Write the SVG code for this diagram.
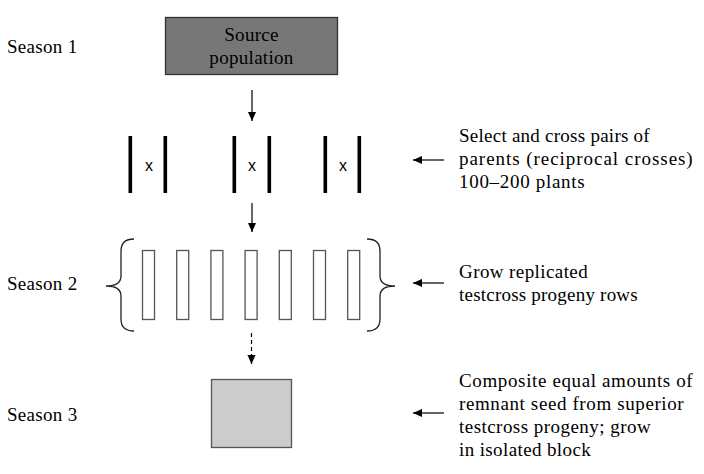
<svg xmlns="http://www.w3.org/2000/svg" width="704" height="474" viewBox="0 0 704 474">
<defs>
<style>
.t{font-family:"Liberation Serif","Times New Roman",serif;font-size:19px;letter-spacing:0.3px;fill:#000}
.x{font-family:"Liberation Sans",Arial,sans-serif;font-size:16px;fill:#000;text-anchor:middle}
.bar{fill:#000}
.row{fill:#fff;stroke:#555;stroke-width:1.3}
.ln{stroke:#000;stroke-width:1.2;fill:none}
.dash{stroke:#000;stroke-width:1.2;fill:none;stroke-dasharray:4 3}
.brace{stroke:#222;stroke-width:1.3;fill:none}
</style>
<marker id="ah" viewBox="0 0 10 10" refX="10" refY="5" markerWidth="9" markerHeight="9" markerUnits="userSpaceOnUse" orient="auto">
<path d="M0,0.5 L10,5 L0,9.5 z" fill="#000"/>
</marker>
</defs>
<rect width="704" height="474" fill="#fff"/>

<g id="season-labels">
<text class="t" x="7" y="53">Season 1</text>
<text class="t" x="7" y="290">Season 2</text>
<text class="t" x="7" y="421">Season 3</text>
</g>

<g id="source">
<rect x="165.5" y="17.5" width="172" height="57" fill="#777" stroke="#333" stroke-width="1.3"/>
<text class="t" x="251.5" y="41" text-anchor="middle">Source</text>
<text class="t" x="251.5" y="64" text-anchor="middle">population</text>
</g>

<g id="crosses">
<rect class="bar" x="128.5" y="136" width="3.6" height="57"/>
<rect class="bar" x="163.5" y="136" width="3.6" height="57"/>
<text class="x" x="149" y="170.5">x</text>
<rect class="bar" x="232.5" y="136" width="3.6" height="57"/>
<rect class="bar" x="267.5" y="136" width="3.6" height="57"/>
<text class="x" x="252" y="170.5">x</text>
<rect class="bar" x="323.5" y="136" width="3.6" height="57"/>
<rect class="bar" x="357.5" y="136" width="3.6" height="57"/>
<text class="x" x="343" y="170.5">x</text>
</g>

<g id="rows">
<path class="brace" d="M134,239 Q121,239 121,251 L121,276 Q121,286 106,286 Q121,286 121,296 L121,319 Q121,331 134,331"/>
<path class="brace" d="M367,239 Q380,239 380,251 L380,276 Q380,286 395,286 Q380,286 380,296 L380,319 Q380,331 367,331"/>
<rect class="row" x="142.5" y="250.5" width="12" height="69"/>
<rect class="row" x="176.7" y="250.5" width="12" height="69"/>
<rect class="row" x="210.9" y="250.5" width="12" height="69"/>
<rect class="row" x="245.1" y="250.5" width="12" height="69"/>
<rect class="row" x="279.3" y="250.5" width="12" height="69"/>
<rect class="row" x="313.5" y="250.5" width="12" height="69"/>
<rect class="row" x="347.7" y="250.5" width="12" height="69"/>
</g>

<g id="composite">
<rect x="211.5" y="379.5" width="80" height="68" fill="#ccc" stroke="#555" stroke-width="1.3"/>
</g>

<g id="notes">
<text class="t" x="459" y="142" textLength="191" lengthAdjust="spacing">Select and cross pairs of</text>
<text class="t" x="459" y="165" textLength="234" lengthAdjust="spacing">parents (reciprocal crosses)</text>
<text class="t" x="459" y="188" textLength="126" lengthAdjust="spacing">100–200 plants</text>
<text class="t" x="459" y="278" textLength="129" lengthAdjust="spacing">Grow replicated</text>
<text class="t" x="459" y="301" textLength="179" lengthAdjust="spacing">testcross progeny rows</text>
<text class="t" x="459" y="387" textLength="234" lengthAdjust="spacing">Composite equal amounts of</text>
<text class="t" x="459" y="410" textLength="225" lengthAdjust="spacing">remnant seed from superior</text>
<text class="t" x="459" y="433" textLength="192" lengthAdjust="spacing">testcross progeny; grow</text>
<text class="t" x="459" y="456" textLength="132" lengthAdjust="spacing">in isolated block</text>
</g>

<g id="connectors">
<line class="ln" x1="252" y1="90" x2="252" y2="121" marker-end="url(#ah)"/>
<line class="ln" x1="252" y1="203" x2="252" y2="232" marker-end="url(#ah)"/>
<line class="dash" x1="251.5" y1="333" x2="251.5" y2="364" marker-end="url(#ah)"/>
<line class="ln" x1="444" y1="160" x2="413" y2="160" marker-end="url(#ah)"/>
<line class="ln" x1="444" y1="283" x2="413" y2="283" marker-end="url(#ah)"/>
<line class="ln" x1="444" y1="413" x2="413" y2="413" marker-end="url(#ah)"/>
</g>
</svg>
